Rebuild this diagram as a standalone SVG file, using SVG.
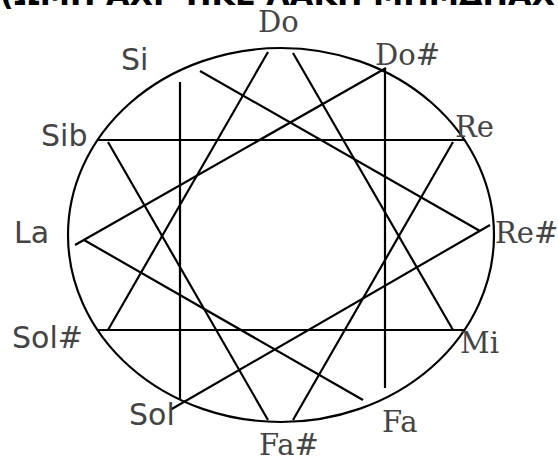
<svg xmlns="http://www.w3.org/2000/svg" width="558" height="461" viewBox="0 0 558 461">
<style>
.bg{fill:#fff}
.ring{fill:none;stroke:#000;stroke-width:2.2}
.ln{stroke:#000;stroke-width:2.2;fill:none}
.lbs{font-family:"DejaVu Sans",sans-serif;font-size:30px;fill:#444}
.lbf{font-family:"DejaVu Serif",serif;font-size:29px;fill:#444}
.cut{font-family:"DejaVu Sans",sans-serif;font-weight:bold;font-size:30px;fill:#000}
</style>
<rect class="bg" x="0" y="0" width="558" height="461"/>
<text class="cut" x="0" y="5" textLength="555" lengthAdjust="spacingAndGlyphs">(ΩΜΗ ΑΧΡ ΗΚΣ ΛΑΚΗ ΜΗΜΔΗΑΧ</text>
<g id="circle"><ellipse class="ring" cx="281" cy="235" rx="213" ry="187"/></g>
<g id="connectors">
<line class="ln" x1="97" y1="140" x2="465" y2="140"/>
<line class="ln" x1="97" y1="330" x2="465" y2="330"/>
<line class="ln" x1="180" y1="82" x2="180" y2="400"/>
<line class="ln" x1="385" y1="68" x2="385" y2="388"/>
<line class="ln" x1="268" y1="52" x2="108" y2="330"/>
<line class="ln" x1="293" y1="53" x2="453" y2="330"/>
<line class="ln" x1="108" y1="142" x2="268" y2="420"/>
<line class="ln" x1="453" y1="142" x2="293" y2="420"/>
<line class="ln" x1="386" y1="68" x2="75" y2="245"/>
<line class="ln" x1="84" y1="240" x2="363" y2="400"/>
<line class="ln" x1="200" y1="71" x2="480" y2="231"/>
<line class="ln" x1="490" y1="225" x2="170" y2="410"/>
</g>
<g id="n-do"><text class="lbf" x="258" y="32">Do</text></g>
<g id="n-si"><text class="lbs" x="121" y="70">Si</text></g>
<g id="n-dos"><text class="lbf" x="375" y="65">Do#</text></g>
<g id="n-sib"><text class="lbs" x="41" y="146">Sib</text></g>
<g id="n-re"><text class="lbf" x="455" y="137">Re</text></g>
<g id="n-la"><text class="lbs" x="14" y="243">La</text></g>
<g id="n-res"><text class="lbf" x="495" y="243">Re#</text></g>
<g id="n-sols"><text class="lbs" x="12" y="348">Sol#</text></g>
<g id="n-mi"><text class="lbf" x="460" y="353">Mi</text></g>
<g id="n-sol"><text class="lbs" x="129" y="425">Sol</text></g>
<g id="n-fa"><text class="lbf" x="382" y="432">Fa</text></g>
<g id="n-fas"><text class="lbf" x="259" y="455">Fa#</text></g>
</svg>
